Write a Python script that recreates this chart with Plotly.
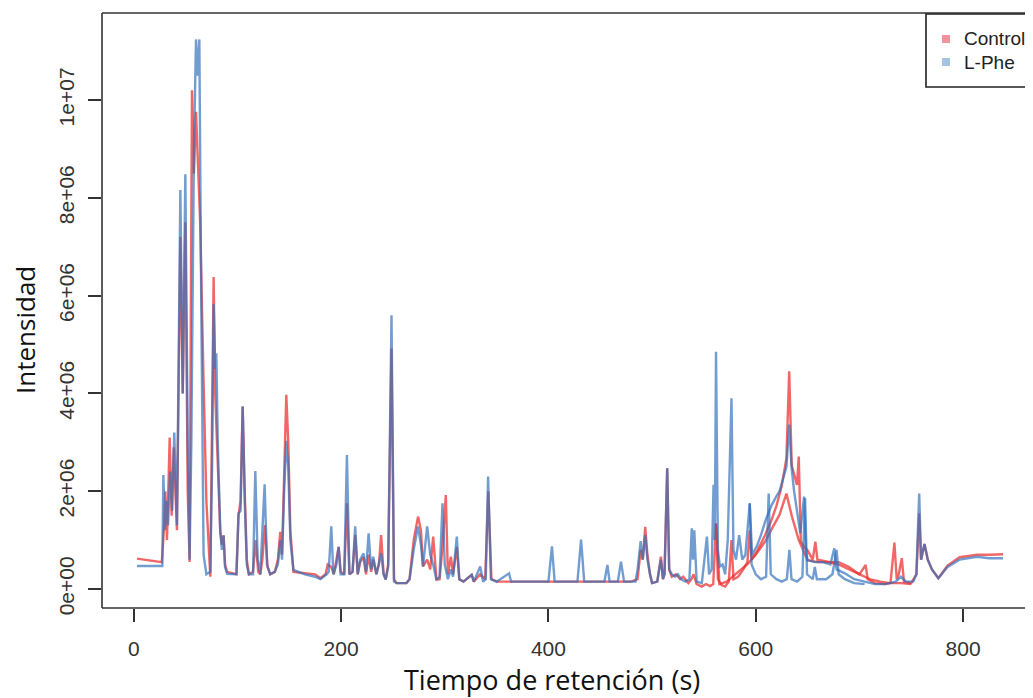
import plotly.graph_objects as go

# ---------------- data (intensity in millions) ----------------
ctrl_a_t = [3, 27, 29, 30.4, 32, 34.6, 36.5, 38.5, 41.6, 44.9, 47.2, 49.7, 52, 53.8, 56.1, 58, 60, 62, 64, 67, 70, 73.8,
            75.5, 77, 78.5, 80, 82, 83.4, 85, 86.6, 88, 90, 99, 101, 103, 105, 107, 109, 111, 115, 117.5, 120, 122, 124,
            126.5, 129, 131.6, 136, 139, 141.3, 143, 145, 147.1, 149, 151, 154, 165, 175, 180, 185, 187, 190.5, 193,
            195.5, 197.6, 199.5, 203, 205.6, 208, 211, 213.6, 216, 218.4, 221.6, 224, 226.5, 229, 231, 234, 236.5,
            238.6, 241, 243, 245.4, 248.6, 251, 253.5, 263, 266, 270, 274.2, 277, 279, 283, 286, 288.8, 290.5, 292,
            295, 298, 301, 303, 305.9, 308, 311.6, 314, 318, 326, 328, 334, 339, 342, 345, 350, 400, 430, 480, 486,
            489, 491, 493.4, 495.5, 498, 500, 505, 508.5, 510.5, 512, 514.6, 516.5, 519, 523, 527, 530, 535, 538, 540,
            543, 548, 552, 556, 559, 561.7, 563.5, 567, 570.5, 574, 576.6, 578.5, 583, 588, 592, 594.2, 596, 602, 609,
            615, 620, 625, 629.6, 632.3, 634.7, 638, 639.8, 641.5, 643.5, 647, 650, 655, 657.5, 659.5, 665, 672, 680,
            690, 700, 706, 708, 715, 725, 730, 733.8, 736, 738, 740.9, 743, 750, 755, 757.7, 759.5, 762.8, 766, 770,
            776.2, 785, 796.7, 813.6, 825, 838.6]
ctrl_a_v = [0.62, 0.55, 1.2, 2.0, 1.0, 3.1, 1.5, 2.9, 1.2, 7.2, 4.0, 7.5, 2.0, 0.55, 10.2, 8.5, 9.76, 8.5, 7.5, 4.5, 1.8,
            0.25, 3.0, 6.38, 4.0, 3.2, 2.0, 1.17, 0.9, 1.1, 0.5, 0.35, 0.3, 1.5, 1.8, 3.73, 2.0, 0.6, 0.3, 0.35, 1.0,
            0.35, 0.3, 0.6, 1.3, 0.45, 0.3, 0.35, 0.6, 1.17, 0.7, 2.5, 3.97, 3.0, 1.2, 0.35, 0.33, 0.3, 0.22, 0.3, 0.5,
            0.45, 0.3, 0.6, 0.86, 0.35, 0.3, 1.75, 0.3, 0.35, 1.1, 0.3, 0.55, 0.65, 0.3, 0.7, 0.35, 0.6, 0.3, 0.5, 1.1,
            0.3, 0.2, 0.5, 4.92, 0.2, 0.12, 0.12, 0.2, 1.0, 1.48, 1.2, 0.46, 0.6, 0.4, 1.07, 0.5, 0.19, 0.2, 0.9, 1.92,
            0.3, 0.66, 0.3, 0.86, 0.2, 0.15, 0.29, 0.15, 0.3, 0.2, 2.0, 0.2, 0.15, 0.15, 0.15, 0.15, 0.2, 0.8, 0.6,
            1.27, 0.7, 0.3, 0.12, 0.15, 0.66, 0.2, 0.3, 2.47, 0.4, 0.25, 0.3, 0.2, 0.25, 0.12, 0.2, 0.3, 0.1, 0.05,
            0.1, 0.06, 0.1, 1.34, 0.2, 0.08, 0.05, 0.15, 1.0, 0.2, 0.25, 0.4, 0.55, 1.2, 0.6, 0.8, 1.1, 1.4, 1.7, 2.1,
            2.67, 4.45, 2.53, 2.3, 2.13, 2.71, 0.98, 0.85, 0.79, 0.6, 0.97, 0.6, 0.58, 0.55, 0.55, 0.45, 0.3, 0.49,
            0.2, 0.12, 0.1, 0.12, 0.95, 0.2, 0.3, 0.63, 0.15, 0.12, 0.3, 1.55, 0.6, 0.92, 0.6, 0.4, 0.22, 0.48, 0.65,
            0.7, 0.7, 0.71]

ctrl_b_t = [561.7, 565, 572, 580, 592.5, 600, 609.4, 616, 623, 629.6, 634.7, 641.5, 646, 650, 660, 670, 680, 690, 700,
            710, 720, 730, 740, 750]
ctrl_b_v = [1.34, 0.1, 0.15, 0.3, 0.52, 0.7, 0.98, 1.25, 1.52, 1.95, 1.5, 1.0, 0.8, 0.59, 0.55, 0.55, 0.5, 0.4, 0.29,
            0.2, 0.15, 0.12, 0.12, 0.1]

phe_a_t = [3, 27.5, 28.5, 30, 31.5, 33, 35, 37, 39, 41.6, 44.9, 47.2, 49.7, 52, 53.8, 55.5, 58, 60, 61.5, 63.2, 65, 67.3,
           70, 73.8, 75.5, 77, 78.5, 79.6, 81, 83.4, 85, 86.6, 88, 90, 99, 101, 103, 105, 107, 109, 111, 115, 117.2,
           119.5, 122, 126.2, 128.5, 131.6, 136, 139, 141.3, 143, 145, 147.1, 149, 151, 154, 165, 175, 180, 186, 188,
           190.5, 192.5, 195.5, 197.6, 199.5, 203, 205.6, 208, 211, 213.6, 216, 218.4, 221.6, 224, 226.5, 229, 231,
           234, 238.6, 241, 243, 245.4, 248.6, 251, 253.5, 263, 266, 270, 274.2, 277, 279, 283, 286, 288.8, 292, 295,
           297.8, 300, 303, 305.9, 308, 311.6, 314, 318, 326, 328, 334.2, 337, 339.5, 341.8, 344.5, 350, 362, 364,
           400, 403.4, 406, 428, 431.5, 434.5, 454, 456.9, 459, 467, 470, 473, 484, 486, 489, 491, 493.4, 495.5, 498,
           500, 505, 508.5, 510.5, 512, 514.6, 516.5, 519, 522, 525, 528, 532, 536, 538.3, 539.5, 540.7, 543, 548,
           552.9, 555, 557.5, 559.3, 560.5, 561.7, 563.5, 565.4, 568, 570.5, 573, 576.6, 578.5, 581, 584, 587, 590,
           594.2, 596.5, 601, 605, 609.4, 615, 620, 623, 627, 629.6, 632.3, 634.7, 637, 639.8, 643, 646.6, 648.5, 650,
           657, 665, 672, 675.8, 678, 686, 695, 705, 715, 725, 735, 740, 745, 752, 755, 757.7, 759.5, 762.8, 766, 770,
           776.2, 785, 796.7, 813.6, 825, 838.6]
phe_a_v = [0.47, 0.47, 2.33, 1.2, 1.8, 1.3, 2.4, 1.6, 3.2, 1.3, 8.16, 4.0, 8.48, 3.0, 0.6, 3.0, 9.0, 11.24, 10.5, 11.24,
           6.0, 0.7, 0.3, 0.35, 2.5, 5.83, 4.5, 4.82, 3.0, 1.17, 0.8, 1.09, 0.45, 0.31, 0.3, 1.55, 1.6, 3.73, 1.8, 0.5,
           0.3, 0.3, 2.41, 0.6, 0.3, 2.14, 0.5, 0.3, 0.35, 0.5, 1.0, 0.6, 2.0, 3.03, 2.5, 1.0, 0.39, 0.3, 0.25, 0.2,
           0.3, 0.35, 1.28, 0.3, 0.5, 0.86, 0.3, 0.3, 2.74, 0.3, 0.35, 1.28, 0.3, 0.6, 0.73, 0.35, 1.14, 0.4, 0.66,
           0.3, 0.73, 0.3, 0.19, 0.45, 5.6, 0.15, 0.12, 0.12, 0.2, 0.8, 1.28, 0.9, 0.46, 1.28, 0.7, 0.5, 0.19, 0.25,
           1.75, 0.5, 0.2, 0.4, 0.25, 1.07, 0.2, 0.15, 0.29, 0.15, 0.46, 0.15, 0.2, 2.3, 0.2, 0.15, 0.32, 0.15, 0.15,
           0.87, 0.15, 0.15, 1.01, 0.15, 0.15, 0.49, 0.15, 0.15, 0.56, 0.15, 0.15, 0.4, 0.98, 0.6, 1.1, 0.6, 0.3, 0.12,
           0.15, 0.6, 0.2, 0.3, 2.47, 0.4, 0.3, 0.25, 0.3, 0.2, 0.15, 0.2, 1.24, 0.6, 1.2, 0.15, 0.12, 1.07, 0.3, 0.4,
           2.13, 1.0, 4.85, 0.8, 0.46, 0.5, 0.3, 1.0, 3.9, 0.8, 0.6, 1.1, 0.6, 0.7, 1.75, 0.7, 0.87, 1.1, 1.4, 1.7,
           1.9, 2.0, 2.3, 2.5, 3.36, 2.46, 2.0, 1.55, 1.14, 1.89, 0.8, 0.59, 0.55, 0.55, 0.5, 0.83, 0.4, 0.32, 0.2,
           0.15, 0.1, 0.1, 0.15, 0.25, 0.15, 0.15, 0.3, 1.95, 0.6, 0.92, 0.6, 0.4, 0.22, 0.45, 0.6, 0.66, 0.63, 0.63]

phe_b_t = [594.2, 596, 600, 605, 610, 612.5, 614.5, 620, 625, 630, 632.5, 634.5, 640, 645, 647.6, 649.5, 655, 657, 659,
           668, 674, 678, 680, 686, 695, 705]
phe_b_v = [1.75, 0.5, 0.3, 0.2, 0.25, 1.95, 0.3, 0.2, 0.15, 0.2, 0.8, 0.2, 0.15, 0.25, 1.86, 0.3, 0.2, 0.45, 0.2, 0.2,
           0.3, 0.8, 0.3, 0.2, 0.12, 0.1]

x_ticks = [0, 200, 400, 600, 800]
y_ticks = [0, 2e6, 4e6, 6e6, 8e6, 1e7]
y_tick_text = ["0e+00", "2e+06", "4e+06", "6e+06", "8e+06", "1e+07"]
legend_labels = ["Control", "L-Phe"]

RED = "rgba(236,45,45,0.72)"
BLUE = "rgba(45,110,185,0.68)"
RED_KEY = "rgba(236,120,130,0.8)"
BLUE_KEY = "rgba(140,180,215,0.8)"

# page has an 8 px body margin: figure is placed at (8, 8)
OFF = 8
W, H = 1033 - OFF, 698 - OFF
L, R, T, B = 102 - OFF, 0, 13 - OFF, 698 - 608
PW, PH = W - L - R, H - T - B


def px(x):
    # page pixel x -> paper fraction
    return (x - OFF - L) / PW


def py(y):
    # page pixel y -> paper fraction
    return (H - B - (y - OFF)) / PH


fig = go.Figure()
for t, v, c in [(ctrl_a_t, ctrl_a_v, RED), (ctrl_b_t, ctrl_b_v, RED),
                (phe_a_t, phe_a_v, BLUE), (phe_b_t, phe_b_v, BLUE)]:
    fig.add_trace(go.Scatter(x=t, y=[a * 1e6 for a in v], mode="lines",
                             line=dict(color=c, width=2.4), showlegend=False,
                             hoverinfo="skip"))

frame = dict(color="#333333", width=1.6)
shapes = [
    dict(type="line", xref="paper", yref="paper", x0=0, x1=0, y0=0, y1=1, line=frame),
    dict(type="line", xref="paper", yref="paper", x0=0, x1=1.01, y0=0, y1=0, line=frame),
    dict(type="line", xref="paper", yref="paper", x0=0, x1=1.01, y0=1, y1=1, line=frame),
    # legend box
    dict(type="rect", xref="paper", yref="paper", x0=px(926), x1=px(1045), y0=py(87), y1=py(14),
         line=dict(color="#222222", width=1.6), fillcolor="white"),
    dict(type="rect", xref="paper", yref="paper", x0=px(942), x1=px(950), y0=py(43), y1=py(35),
         line=dict(width=0), fillcolor=RED_KEY),
    dict(type="rect", xref="paper", yref="paper", x0=px(942), x1=px(950), y0=py(66), y1=py(58),
         line=dict(width=0), fillcolor=BLUE_KEY),
]

annotations = [
    dict(text=legend_labels[0], xref="paper", yref="paper", x=px(962), y=py(39), xanchor="left",
         yanchor="middle", showarrow=False, font=dict(family="Liberation Sans", size=19, color="#222")),
    dict(text=legend_labels[1], xref="paper", yref="paper", x=px(962), y=py(62), xanchor="left",
         yanchor="middle", showarrow=False, font=dict(family="Liberation Sans", size=19, color="#222")),
    dict(text="Intensidad", xref="paper", yref="paper", x=px(25), y=py(330), xanchor="center",
         yanchor="middle", textangle=-90, showarrow=False,
         font=dict(family="Open Sans", size=26, color="#111")),
    dict(text="Tiempo de retención (s)", xref="paper", yref="paper", x=px(552), y=py(679),
         xanchor="center", yanchor="middle", showarrow=False,
         font=dict(family="Open Sans", size=27, color="#111")),
]

fig.update_layout(
    width=W, height=H, margin=dict(l=L, r=R, t=T, b=B, autoexpand=False),
    paper_bgcolor="white", plot_bgcolor="white",
    shapes=shapes, annotations=annotations, showlegend=False,
    xaxis=dict(range=[-30.7, 867.5], tickvals=x_ticks, ticktext=[str(v) for v in x_ticks],
               ticks="outside", ticklen=13, tickwidth=1.5, tickcolor="#333",
               showgrid=False, zeroline=False, showline=False, ticklabelstandoff=9,
               tickfont=dict(family="Liberation Sans", size=21, color="#333")),
    yaxis=dict(range=[-0.389e6, 11.78e6], tickvals=y_ticks, ticktext=y_tick_text,
               ticks="outside", ticklen=13, tickwidth=1.5, tickcolor="#333", tickangle=-90,
               showgrid=False, zeroline=False, showline=False, ticklabelstandoff=6,
               tickfont=dict(family="Liberation Sans", size=21, color="#333")),
)

fig.write_html("out.html")
